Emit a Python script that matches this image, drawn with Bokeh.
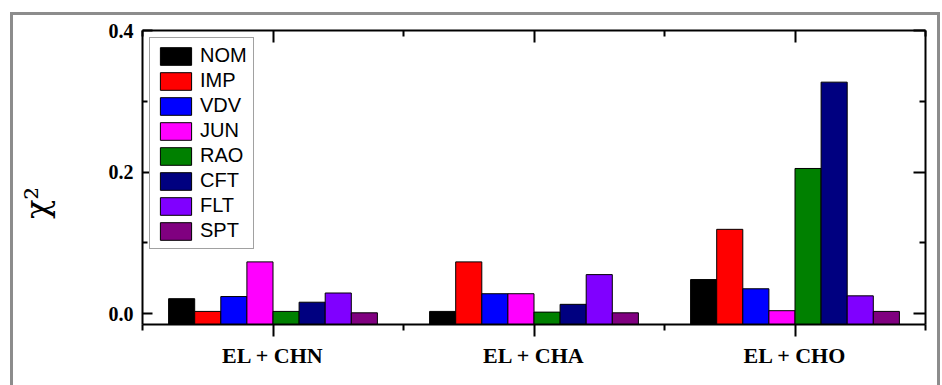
from bokeh.plotting import figure
from bokeh.models import (Range1d, FixedTicker, LinearAxis, Legend, LegendItem,
                          PrintfTickFormatter, CustomJSTickFormatter)
from bokeh.embed import file_html
from bokeh.resources import INLINE

# ---- data ----
groups = ["EL + CHN", "EL + CHA", "EL + CHO"]
series = ["NOM", "IMP", "VDV", "JUN", "RAO", "CFT", "FLT", "SPT"]
colors = ["#000000", "#FF0000", "#0000FF", "#FF00FF", "#008000", "#000080", "#8000FF", "#800080"]
NOM = [0.021, 0.003, 0.048]
IMP = [0.003, 0.073, 0.119]
VDV = [0.024, 0.028, 0.035]
JUN = [0.073, 0.028, 0.004]
RAO = [0.003, 0.002, 0.205]
CFT = [0.016, 0.013, 0.327]
FLT = [0.029, 0.055, 0.025]
SPT = [0.001, 0.001, 0.003]
values = [NOM, IMP, VDV, JUN, RAO, CFT, FLT, SPT]
y_ticks = [0.0, 0.2, 0.4]
y_minor = [0.1, 0.3]

Y0 = -0.0155
BW = 0.1

css = """
:host::after {
  content: "";
  position: absolute;
  left: 10px; top: 12px; right: 2px; bottom: -40px;
  border: 3px solid #8c8c8c;
  pointer-events: none;
  z-index: 100;
}
"""

p = figure(width=942, height=385, x_range=Range1d(0.5, 3.5), y_range=Range1d(Y0, 0.4),
           output_backend="svg", toolbar_location=None,
           min_border_left=142, min_border_right=17, min_border_top=30, min_border_bottom=61,
           stylesheets=[css])
p.xgrid.grid_line_color = None
p.ygrid.grid_line_color = None
p.outline_line_color = None
p.background_fill_color = "white"
p.border_fill_color = "white"

xpos = [i + 1 for i in range(len(groups))]
items = []
for k, (name, vals, col) in enumerate(zip(series, values, colors)):
    off = (k - (len(series) - 1) / 2) * BW
    r = p.vbar(x=[x + off for x in xpos], top=vals, bottom=Y0, width=BW,
               fill_color=col, line_color="black", line_width=1)
    items.append(LegendItem(label=name, renderers=[r]))

xt = FixedTicker(ticks=xpos, minor_ticks=[0.5, 1.5, 2.5, 3.5])
yt = FixedTicker(ticks=y_ticks, minor_ticks=y_minor)

def style(ax):
    ax.axis_line_width = 2
    ax.axis_line_color = "black"
    ax.major_tick_line_width = 2
    ax.minor_tick_line_width = 2
    ax.major_tick_line_color = "black"
    ax.minor_tick_line_color = "black"

# bottom
bx = p.xaxis[0]
bx.ticker = xt
bx.major_label_overrides = {x: g for x, g in zip(xpos, groups)}
style(bx)
bx.major_tick_in = 0
bx.major_tick_out = 12
bx.minor_tick_in = 0
bx.minor_tick_out = 6
bx.major_label_text_font = "Liberation Serif"
bx.major_label_text_font_style = "bold"
bx.major_label_text_font_size = "22px"
bx.major_label_text_color = "black"
bx.major_label_standoff = 6

# left
ly = p.yaxis[0]
ly.ticker = yt
ly.formatter = PrintfTickFormatter(format="%.1f")
style(ly)
ly.major_tick_in = 10
ly.major_tick_out = 0
ly.minor_tick_in = 5
ly.minor_tick_out = 0
ly.major_label_text_font = "Liberation Serif"
ly.major_label_text_font_style = "bold"
ly.major_label_text_font_size = "20px"
ly.major_label_text_color = "black"
ly.major_label_standoff = 9
ly.axis_label = "χ²" + "\u00a0" * 5
ly.axis_label_text_font = "DejaVu Serif"
ly.axis_label_text_font_style = "normal"
ly.axis_label_text_font_size = "32px"
ly.axis_label_text_color = "black"
ly.axis_label_standoff = 50

blank = CustomJSTickFormatter(code="return ''")
top = LinearAxis(ticker=xt, formatter=blank, major_tick_in=12, major_tick_out=0,
                 minor_tick_in=6, minor_tick_out=0, major_label_standoff=0)
style(top)
p.add_layout(top, "above")
right = LinearAxis(ticker=yt, formatter=CustomJSTickFormatter(code="return ''"),
                   major_tick_in=12, major_tick_out=0,
                   minor_tick_in=6, minor_tick_out=0, major_label_standoff=0)
style(right)
p.add_layout(right, "right")

legend = Legend(items=items, location="top_left", margin=7, padding=6, spacing=2,
                glyph_width=39, glyph_height=22, label_height=22, label_standoff=5,
                label_text_font="Liberation Sans", label_text_font_size="20px",
                label_text_color="black",
                border_line_color="#444444", border_line_width=1,
                background_fill_color="white", background_fill_alpha=1.0)
p.add_layout(legend)

open("out.html", "w").write(file_html(p, INLINE))
